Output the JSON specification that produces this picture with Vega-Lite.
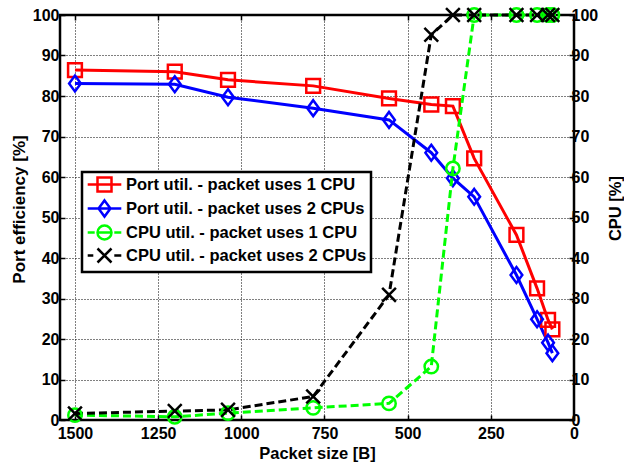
{
  "$schema": "https://vega.github.io/schema/vega-lite/v6.json",
  "width": 514,
  "height": 405,
  "autosize": {"type": "none"},
  "padding": {"left": 60, "top": 15, "right": 50, "bottom": 43},
  "background": "white",
  "config": {
    "font": "Liberation Sans",
    "view": {"stroke": "black", "strokeWidth": 2.5},
    "axis": {
      "labelFont": "Liberation Sans", "labelFontWeight": "bold", "labelFontSize": 16, "labelColor": "black",
      "titleFont": "Liberation Sans", "titleFontWeight": "bold", "titleFontSize": 16.5, "titleColor": "black",
      "domain": false, "tickColor": "black", "tickSize": -5, "tickWidth": 1.5,
      "gridColor": "black", "gridDash": [1, 2], "gridWidth": 1, "gridOpacity": 1
    }
  },
  "data": {"values": [
    {"size": 1500, "value": 86.4, "series": "Port util. - packet uses 1 CPU", "group": "Port"},
    {"size": 1200, "value": 86.0, "series": "Port util. - packet uses 1 CPU", "group": "Port"},
    {"size": 1040, "value": 84.0, "series": "Port util. - packet uses 1 CPU", "group": "Port"},
    {"size": 784, "value": 82.5, "series": "Port util. - packet uses 1 CPU", "group": "Port"},
    {"size": 556, "value": 79.4, "series": "Port util. - packet uses 1 CPU", "group": "Port"},
    {"size": 429, "value": 77.9, "series": "Port util. - packet uses 1 CPU", "group": "Port"},
    {"size": 364, "value": 77.5, "series": "Port util. - packet uses 1 CPU", "group": "Port"},
    {"size": 300, "value": 64.6, "series": "Port util. - packet uses 1 CPU", "group": "Port"},
    {"size": 173, "value": 45.7, "series": "Port util. - packet uses 1 CPU", "group": "Port"},
    {"size": 111, "value": 32.5, "series": "Port util. - packet uses 1 CPU", "group": "Port"},
    {"size": 78, "value": 24.7, "series": "Port util. - packet uses 1 CPU", "group": "Port"},
    {"size": 65, "value": 22.4, "series": "Port util. - packet uses 1 CPU", "group": "Port"},
    {"size": 1500, "value": 83.1, "series": "Port util. - packet uses 2 CPUs", "group": "Port"},
    {"size": 1200, "value": 82.9, "series": "Port util. - packet uses 2 CPUs", "group": "Port"},
    {"size": 1040, "value": 79.7, "series": "Port util. - packet uses 2 CPUs", "group": "Port"},
    {"size": 784, "value": 77.0, "series": "Port util. - packet uses 2 CPUs", "group": "Port"},
    {"size": 556, "value": 74.1, "series": "Port util. - packet uses 2 CPUs", "group": "Port"},
    {"size": 429, "value": 66.0, "series": "Port util. - packet uses 2 CPUs", "group": "Port"},
    {"size": 364, "value": 59.7, "series": "Port util. - packet uses 2 CPUs", "group": "Port"},
    {"size": 300, "value": 55.1, "series": "Port util. - packet uses 2 CPUs", "group": "Port"},
    {"size": 173, "value": 35.8, "series": "Port util. - packet uses 2 CPUs", "group": "Port"},
    {"size": 111, "value": 24.9, "series": "Port util. - packet uses 2 CPUs", "group": "Port"},
    {"size": 78, "value": 19.1, "series": "Port util. - packet uses 2 CPUs", "group": "Port"},
    {"size": 65, "value": 16.5, "series": "Port util. - packet uses 2 CPUs", "group": "Port"},
    {"size": 1500, "value": 1.2, "series": "CPU util. - packet uses 1 CPU", "group": "CPU"},
    {"size": 1200, "value": 0.8, "series": "CPU util. - packet uses 1 CPU", "group": "CPU"},
    {"size": 1040, "value": 1.7, "series": "CPU util. - packet uses 1 CPU", "group": "CPU"},
    {"size": 784, "value": 3.0, "series": "CPU util. - packet uses 1 CPU", "group": "CPU"},
    {"size": 556, "value": 4.1, "series": "CPU util. - packet uses 1 CPU", "group": "CPU"},
    {"size": 429, "value": 13.2, "series": "CPU util. - packet uses 1 CPU", "group": "CPU"},
    {"size": 364, "value": 62.1, "series": "CPU util. - packet uses 1 CPU", "group": "CPU"},
    {"size": 300, "value": 100, "series": "CPU util. - packet uses 1 CPU", "group": "CPU"},
    {"size": 173, "value": 100, "series": "CPU util. - packet uses 1 CPU", "group": "CPU"},
    {"size": 111, "value": 100, "series": "CPU util. - packet uses 1 CPU", "group": "CPU"},
    {"size": 78, "value": 100, "series": "CPU util. - packet uses 1 CPU", "group": "CPU"},
    {"size": 65, "value": 100, "series": "CPU util. - packet uses 1 CPU", "group": "CPU"},
    {"size": 1500, "value": 1.6, "series": "CPU util. - packet uses 2 CPUs", "group": "CPU"},
    {"size": 1200, "value": 2.2, "series": "CPU util. - packet uses 2 CPUs", "group": "CPU"},
    {"size": 1040, "value": 2.5, "series": "CPU util. - packet uses 2 CPUs", "group": "CPU"},
    {"size": 784, "value": 5.8, "series": "CPU util. - packet uses 2 CPUs", "group": "CPU"},
    {"size": 556, "value": 30.9, "series": "CPU util. - packet uses 2 CPUs", "group": "CPU"},
    {"size": 429, "value": 95.1, "series": "CPU util. - packet uses 2 CPUs", "group": "CPU"},
    {"size": 364, "value": 100, "series": "CPU util. - packet uses 2 CPUs", "group": "CPU"},
    {"size": 300, "value": 100, "series": "CPU util. - packet uses 2 CPUs", "group": "CPU"},
    {"size": 173, "value": 100, "series": "CPU util. - packet uses 2 CPUs", "group": "CPU"},
    {"size": 111, "value": 100, "series": "CPU util. - packet uses 2 CPUs", "group": "CPU"},
    {"size": 78, "value": 100, "series": "CPU util. - packet uses 2 CPUs", "group": "CPU"},
    {"size": 65, "value": 100, "series": "CPU util. - packet uses 2 CPUs", "group": "CPU"}
  ]},
  "encoding": {
    "color": {
      "field": "series", "type": "nominal",
      "scale": {
        "domain": ["Port util. - packet uses 1 CPU", "Port util. - packet uses 2 CPUs", "CPU util. - packet uses 1 CPU", "CPU util. - packet uses 2 CPUs"],
        "range": ["#ff0000", "#0000ff", "#00ff00", "#000000"]
      },
      "legend": {
        "title": null, "orient": "none", "legendX": 22, "legendY": 157, "direction": "vertical",
        "strokeColor": "black", "fillColor": "white", "padding": 4,
        "labelFont": "Liberation Sans", "labelFontWeight": "bold", "labelFontSize": 16.5, "labelColor": "black", "labelLimit": 400,
        "symbolSize": 196, "symbolStrokeWidth": 2.5, "symbolFillColor": "transparent",
        "symbolOffset": 10, "labelOffset": 13, "rowPadding": -2,
        "encode": {
          "legend": {"update": {"strokeWidth": {"value": 2.5}}},
          "symbols": {"update": {
            "fill": {"value": "transparent"},
            "shape": {"signal": "datum.value === 'Port util. - packet uses 1 CPU' ? 'M-2.4,0H2.4M-1,-1H1V1H-1Z' : datum.value === 'Port util. - packet uses 2 CPUs' ? 'M-2.4,0H2.4M0,-1.15L0.85,0L0,1.15L-0.85,0Z' : datum.value === 'CPU util. - packet uses 1 CPU' ? 'M-2.4,0H-1.4M1.4,0H2.4M-1,0H1M1,0A1,1,0,1,1,-1,0A1,1,0,1,1,1,0Z' : 'M-2.4,0H-1.6M1.4,0H2.4M-1,-1L1,1M-1,1L1,-1'"}
          }}
        }
      }
    }
  },
  "layer": [
    {
      "transform": [{"filter": "datum.group === 'Port'"}],
      "encoding": {
        "x": {
          "field": "size", "type": "quantitative",
          "scale": {"domain": [0, 1545], "reverse": true, "nice": false, "zero": false},
          "axis": {"orient": "bottom", "values": [0, 250, 500, 750, 1000, 1250, 1500], "format": "d", "title": "Packet size [B]", "grid": true, "labelPadding": 10, "titlePadding": 4, "labelFlush": false}
        },
        "y": {
          "field": "value", "type": "quantitative",
          "scale": {"domain": [0, 100], "nice": false},
          "axis": {"orient": "left", "values": [0, 10, 20, 30, 40, 50, 60, 70, 80, 90, 100], "title": "Port efficiency [%]", "titleFontSize": 17, "titleX": -41, "titleY": 194, "titleBaseline": "middle", "grid": true, "labelPadding": 6}
        }
      },
      "layer": [
        {"mark": {"type": "line", "strokeWidth": 3}},
        {
          "transform": [{"filter": "datum.series === 'Port util. - packet uses 1 CPU'"}],
          "mark": {"type": "point", "shape": "square", "filled": false, "strokeWidth": 2.5, "size": 190, "opacity": 1}
        },
        {
          "transform": [{"filter": "datum.series === 'Port util. - packet uses 2 CPUs'"}],
          "mark": {"type": "point", "shape": "M0,-1.15L0.85,0L0,1.15L-0.85,0Z", "filled": false, "strokeWidth": 2.5, "size": 190, "opacity": 1}
        }
      ]
    },
    {
      "transform": [{"filter": "datum.group === 'CPU'"}],
      "encoding": {
        "x": {
          "field": "size", "type": "quantitative",
          "scale": {"domain": [0, 1545], "reverse": true, "nice": false, "zero": false},
          "axis": {"orient": "top", "values": [0, 250, 500, 750, 1000, 1250, 1500], "title": null, "labels": false, "grid": false}
        },
        "y": {
          "field": "value", "type": "quantitative",
          "scale": {"domain": [0, 100], "nice": false},
          "axis": {"orient": "right", "values": [0, 10, 20, 30, 40, 50, 60, 70, 80, 90, 100], "title": "CPU [%]", "titleAngle": 270, "titleX": 41, "titleY": 193, "titleBaseline": "middle", "grid": false, "labelPadding": 2}
        }
      },
      "layer": [
        {"mark": {"type": "line", "strokeWidth": 3, "strokeDash": [8, 4]}},
        {
          "transform": [{"filter": "datum.series === 'CPU util. - packet uses 1 CPU'"}],
          "mark": {"type": "point", "shape": "circle", "filled": false, "strokeWidth": 2.5, "size": 180, "opacity": 1}
        },
        {
          "transform": [{"filter": "datum.series === 'CPU util. - packet uses 2 CPUs'"}],
          "mark": {"type": "point", "shape": "M-1,-1L1,1M-1,1L1,-1", "filled": false, "strokeWidth": 2.5, "size": 190, "opacity": 1}
        }
      ]
    }
  ],
  "resolve": {"scale": {"y": "independent"}, "axis": {"x": "independent"}}
}
